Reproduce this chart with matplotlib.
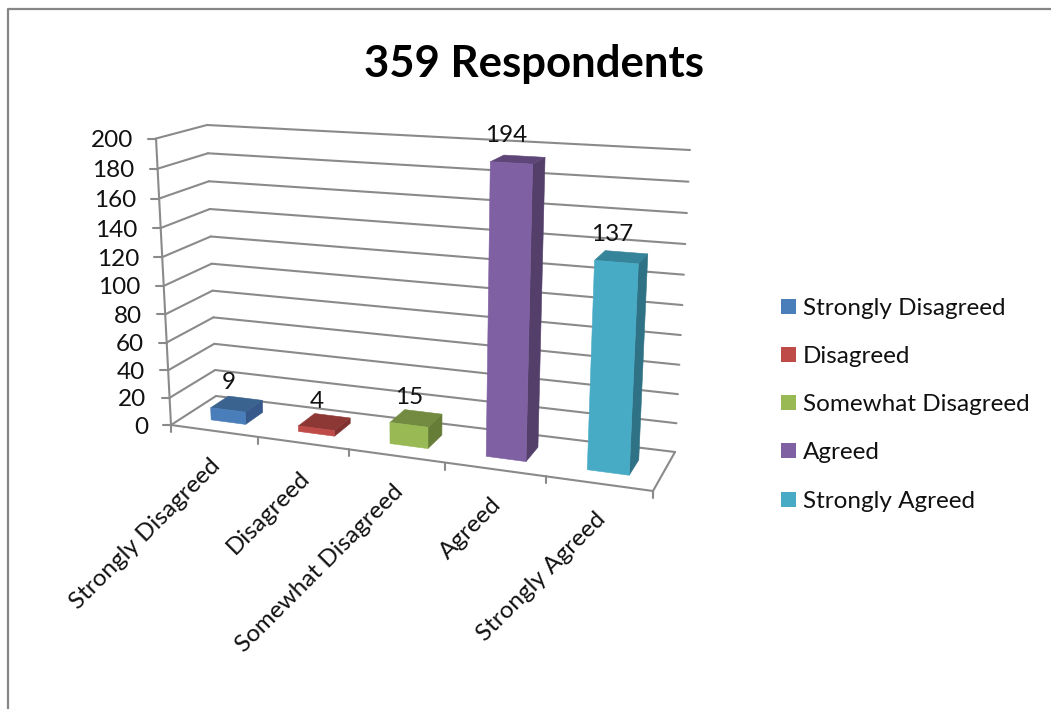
"""
359 Respondents - Excel style 3D column chart, projected by hand onto a flat axes.
"""
import matplotlib
matplotlib.use("Agg")
import matplotlib.pyplot as plt
import matplotlib.patches as mpatches
import numpy as np

categories = ["Strongly Disagreed", "Disagreed", "Somewhat Disagreed", "Agreed", "Strongly Agreed"]
values = [9, 4, 15, 194, 137]
y_ticks = [0, 20, 40, 60, 80, 100, 120, 140, 160, 180, 200]

# front, top, side
BLUE = ("#4A7EBB", "#3A6390", "#36588A")
RED = ("#BE4B48", "#8E3835", "#7F3230")
GREEN = ("#98B954", "#738B40", "#667D37")
PURPLE = ("#7F60A2", "#5E4778", "#533F6A")
TEAL = ("#48ABC6", "#35849A", "#2F7285")
COLORS = [BLUE, RED, GREEN, PURPLE, TEAL]
GRID = "#8A8A8A"
FONT = "Lato"
TEXT = "#111111"
FS = 17.5

# wall corners in pixels: bottom-left, bottom-right, top-right, top-left
FRONT_PLANE = [(171, 425), (653, 491), (669, 167.5), (156, 138.5)]
BACK_PLANE = [(216, 396), (675, 452), (690, 150), (207, 125)]
BAR_WIDTH = 0.4
BAR_SHIFT = 0.015
BAR_DEPTH = (0.3, 0.7)
YMAX = 200


def homography(corners):
    src = [(0, 0), (1, 0), (1, 1), (0, 1)]
    a, b = [], []
    for (u, w), (x, y) in zip(src, corners):
        a.append([u, w, 1, 0, 0, 0, -u * x, -w * x])
        a.append([0, 0, 0, u, w, 1, -u * y, -w * y])
        b += [x, y]
    return np.append(np.linalg.solve(np.array(a, float), np.array(b, float)), 1).reshape(3, 3)


H_FRONT = homography(FRONT_PLANE)
H_BACK = homography(BACK_PLANE)


def proj(cat, depth, val):
    # cat in category units (0..n), depth 0 front .. 1 back, val in data units
    p = np.array([cat / len(categories), val / YMAX, 1.0])
    f = H_FRONT @ p
    b = H_BACK @ p
    return tuple((1 - depth) * f[:2] / f[2] + depth * b[:2] / b[2])


def line(ax, p0, p1, lw=1.5, z=1):
    ax.plot([p0[0], p1[0]], [p0[1], p1[1]], color=GRID, lw=lw, zorder=z,
            solid_capstyle="round")


fig = plt.figure(figsize=(10.51, 7.09), dpi=100)
ax = fig.add_axes([0, 0, 1, 1])
ax.set_xlim(0, 1051)
ax.set_ylim(709, 0)
ax.axis("off")

# chart frame
ax.plot([8, 8, 1051], [709, 9, 9], color="#868686", lw=1.6, zorder=1)

n = len(categories)

# gridlines over left wall and back wall
for t in y_ticks:
    a = proj(0, 0, t)
    b = proj(0, 1, t)
    c = proj(n, 1, t)
    line(ax, a, b)
    line(ax, b, c)
    line(ax, (a[0] - 8, a[1]), a)
    ax.text(a[0] - 23, a[1], str(t), ha="right", va="center_baseline",
            fontsize=FS, family=FONT, color=TEXT, zorder=5)

# axis line, floor
line(ax, proj(0, 0, 0), proj(0, 0, YMAX))
line(ax, proj(0, 0, 0), proj(n, 0, 0))
line(ax, proj(n, 0, 0), proj(n, 1, 0))
for i in range(n + 1):
    p = proj(i, 0, 0)
    line(ax, p, (p[0], p[1] + 7))

# columns
for i, (cat, val, col) in enumerate(zip(categories, values, COLORS)):
    u0 = i + 0.5 + BAR_SHIFT - BAR_WIDTH / 2
    u1 = i + 0.5 + BAR_SHIFT + BAR_WIDTH / 2
    d0, d1 = BAR_DEPTH
    side = [proj(u1, d0, 0), proj(u1, d1, 0), proj(u1, d1, val), proj(u1, d0, val)]
    top = [proj(u0, d0, val), proj(u1, d0, val), proj(u1, d1, val), proj(u0, d1, val)]
    front = [proj(u0, d0, 0), proj(u1, d0, 0), proj(u1, d0, val), proj(u0, d0, val)]
    for pts, c in ((side, col[2]), (top, col[1]), (front, col[0])):
        ax.add_patch(mpatches.Polygon(pts, closed=True, facecolor=c, edgecolor=c,
                                      lw=0.4, zorder=3))

    # data label, tall columns lean left in the perspective
    lx, ly = proj(i + 0.5, d0, val)
    ax.text(lx + 2 - 0.03 * val, ly - 29, str(val), ha="center", va="center_baseline",
            fontsize=FS, family=FONT, color=TEXT, zorder=6)

    # category label
    fx, fy = proj(i + 0.5, 0, 0)
    ax.text(fx + 3, fy + 32, cat, rotation=45, rotation_mode="anchor", ha="right",
            va="center", fontsize=FS, family=FONT, color=TEXT, zorder=5)

# legend drawn by hand at the Excel spacing
legend_y = [306.5, 354.5, 402.5, 450.5, 499.5]
for cat, col, y in zip(categories, COLORS, legend_y):
    ax.add_patch(mpatches.Rectangle((781, y - 7.5), 15, 15, facecolor=col[0], edgecolor="none",
                                    zorder=3))
    ax.text(803, y, cat, ha="left", va="center_baseline", fontsize=FS, family=FONT,
            color=TEXT, zorder=5)

ax.text(534, 60, "359 Respondents", ha="center", va="center_baseline", fontsize=31.5,
        fontweight="bold", family=FONT, color="#000000", zorder=5)

fig.savefig("out.png", dpi=100, facecolor="white")
